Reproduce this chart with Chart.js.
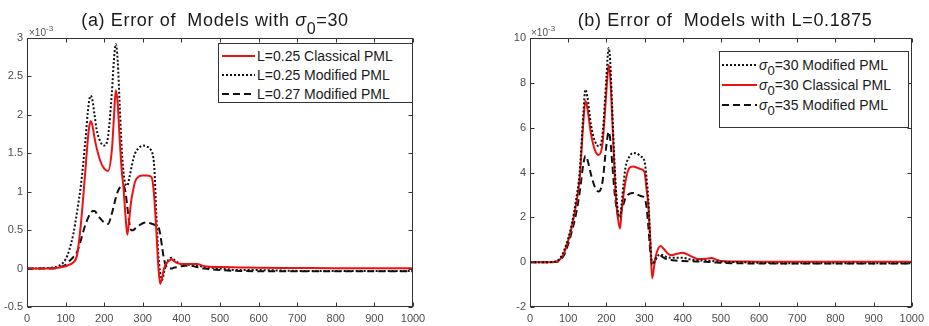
<!DOCTYPE html>
<html><head><meta charset="utf-8">
<script src="https://cdn.jsdelivr.net/npm/chart.js@4/dist/chart.umd.min.js"></script>
<style>
html,body{margin:0;padding:0;background:#fff;width:929px;height:326px;overflow:hidden;font-family:"Liberation Sans",Arial,sans-serif;}
.wrap{position:absolute;top:0;}
canvas{display:block;}
.title{position:absolute;top:11px;font-size:18px;line-height:18px;color:#1a1a1a;white-space:pre;letter-spacing:0.65px;transform:translateX(-50%);}
.title .sub{position:relative;top:8px;font-size:16px;}
.exp{position:absolute;top:25px;font-size:10px;color:#555;line-height:10px;}
.exp sup{font-size:8px;position:relative;top:-1px;}
.legend{position:absolute;background:#fff;border:1px solid #333;box-sizing:border-box;font-size:14px;color:#1a1a1a;}
.row{position:absolute;height:18px;display:flex;align-items:center;white-space:pre;}
.row svg{margin-right:2px;}
.row .sub{position:relative;top:5px;font-size:13px;}
</style>
</head><body>
<div class="wrap" style="left:0;"><canvas id="cA" width="465" height="326"></canvas></div>
<div class="wrap" style="left:465px;"><canvas id="cB" width="464" height="326"></canvas></div>

<div class="title" style="left:215px;">(a) Error of  Models with <i>σ</i><span class="sub">0</span>=30</div>
<div class="title" style="left:725px;">(b) Error of  Models with L=0.1875</div>
<div class="exp" style="left:29px;">×10<sup>-3</sup></div>
<div class="exp" style="left:531px;">×10<sup>-3</sup></div>

<div class="legend" style="left:218px;top:43px;width:195px;height:60px;">
  <div class="row" style="left:3px;top:3px;"><svg width="33" height="4"><line x1="0" y1="2" x2="33" y2="2" stroke="#ee1111" stroke-width="2"/></svg>L=0.25 Classical PML</div>
  <div class="row" style="left:3px;top:22px;"><svg width="33" height="4"><line x1="0" y1="2" x2="33" y2="2" stroke="#111" stroke-width="2" stroke-dasharray="2 2"/></svg>L=0.25 Modified PML</div>
  <div class="row" style="left:3px;top:41px;"><svg width="33" height="4"><line x1="0" y1="2" x2="33" y2="2" stroke="#111" stroke-width="2" stroke-dasharray="7 4"/></svg>L=0.27 Modified PML</div>
</div>
<div class="legend" style="left:719px;top:51px;width:190px;height:77px;">
  <div class="row" style="left:2px;top:4px;"><svg width="35" height="4"><line x1="0" y1="2" x2="35" y2="2" stroke="#111" stroke-width="2" stroke-dasharray="2 2"/></svg><i>σ</i><span class="sub">0</span>=30 Modified PML</div>
  <div class="row" style="left:2px;top:24px;"><svg width="35" height="4"><line x1="0" y1="2" x2="35" y2="2" stroke="#ee1111" stroke-width="2"/></svg><i>σ</i><span class="sub">0</span>=30 Classical PML</div>
  <div class="row" style="left:2px;top:44px;"><svg width="35" height="4"><line x1="0" y1="2" x2="35" y2="2" stroke="#111" stroke-width="2" stroke-dasharray="7 4"/></svg><i>σ</i><span class="sub">0</span>=35 Modified PML</div>
</div>

<script>
// ---------- Panel (a): values in units of 1e-3 ----------
const xA = [0,60,80,100,110,120,130,140,150,160,
            165,170,175,180,190,200,210,220,225,230,
            235,240,245,250,255,260,265,270,275,280,
            290,300,310,320,325,330,335,340,345,350,
            355,360,370,375,380,390,400,420,440,460,
            500,550,600,700,800,900,1000];
const classicalL025 = [0,0,0.01,0.03,0.05,0.08,0.18,0.6,1.2,1.8,
            1.92,1.85,1.7,1.58,1.4,1.3,1.27,1.55,1.95,2.32,
            2.15,1.7,1.3,1.05,0.7,0.44,0.65,0.88,1.02,1.13,
            1.2,1.21,1.21,1.2,1.15,0.9,0.5,0.05,-0.2,-0.12,
            0.0,0.06,0.11,0.12,0.1,0.07,0.06,0.06,0.06,0.03,
            0.02,0.015,0.01,0.008,0.005,0.005,0.005];
const modifiedL025 = [0,0.01,0.03,0.12,0.25,0.45,0.75,1.1,1.6,2.15,
            2.25,2.18,2.0,1.82,1.65,1.6,1.72,2.3,2.7,2.92,
            2.7,2.15,1.6,1.25,1.1,1.08,1.18,1.3,1.42,1.5,
            1.57,1.6,1.59,1.55,1.5,1.3,0.7,0.2,-0.05,-0.15,
            -0.05,0.05,0.13,0.14,0.12,0.08,0.06,0.05,0.04,0.02,
            0.0,-0.02,-0.02,-0.03,-0.03,-0.03,-0.03];
const modifiedL027 = [0,0,0.01,0.05,0.1,0.15,0.22,0.38,0.55,0.68,
            0.72,0.75,0.75,0.72,0.65,0.6,0.58,0.72,0.82,0.92,
            1.0,1.05,1.08,1.08,1.0,0.8,0.6,0.5,0.5,0.52,
            0.56,0.59,0.6,0.59,0.58,0.57,0.56,0.55,0.45,0.28,
            0.12,0.04,0.0,0.0,0.01,0.02,0.03,0.04,0.02,0.0,
            -0.02,-0.03,-0.035,-0.035,-0.035,-0.035,-0.035];

// ---------- Panel (b): values in units of 1e-3 ----------
const xB = [0,50,70,80,90,100,110,120,130,140,
            145,150,160,170,180,190,200,206,210,215,
            220,225,230,236,240,245,250,260,270,280,
            290,300,305,310,315,320,325,330,342,350,
            360,370,380,400,420,440,460,475,490,500,
            550,600,700,800,900,1000];
const modifiedS30 = [0,0,0.05,0.2,0.55,1.05,1.75,2.7,4.0,6.7,
            7.7,7.4,6.1,5.4,5.17,5.7,8.2,9.55,9.0,7.0,
            4.9,3.3,2.3,2.0,2.6,3.5,4.2,4.7,4.87,4.85,
            4.72,4.5,3.8,2.8,1.0,-0.1,0.0,0.2,0.33,0.3,
            0.22,0.2,0.2,0.2,0.12,0.08,0.07,0.06,0.03,0.02,
            0.0,-0.03,-0.05,-0.05,-0.05,-0.05];
const classicalS30 = [0,0,0.03,0.15,0.45,0.95,1.6,2.5,3.7,6.3,
            7.2,6.9,5.7,5.0,4.78,5.3,7.6,8.8,8.3,6.6,
            4.6,2.9,2.0,1.5,2.3,3.0,3.6,4.2,4.27,4.22,
            4.15,4.02,3.3,2.5,1.0,-0.72,-0.2,0.3,0.72,0.6,
            0.4,0.31,0.35,0.42,0.28,0.14,0.15,0.19,0.1,0.05,
            0.03,0.02,0.02,0.02,0.02,0.02];
const modifiedS35 = [0,0,0.02,0.1,0.35,0.8,1.4,2.1,3.1,4.4,
            4.75,4.6,3.9,3.35,3.15,3.6,5.2,5.82,5.5,4.5,
            3.4,2.6,2.1,1.96,2.3,2.6,2.85,3.05,3.08,3.02,
            2.95,2.85,2.5,1.6,0.5,-0.13,0.0,0.15,0.27,0.2,
            0.12,0.1,0.07,0.05,0.04,0.03,0.02,0.0,-0.02,-0.03,
            -0.05,-0.06,-0.06,-0.06,-0.06,-0.06];

const RED = '#ee1111', BLK = '#111111';
const FONT = '"Liberation Sans", Arial, sans-serif';

function pts(xs, ys){ return xs.map((x,i)=>({x:x, y:ys[i]})); }

const framePlugin = {
  id:'frame',
  afterDraw(chart){
    const ctx = chart.ctx, a = chart.chartArea, xs = chart.scales.x, ys = chart.scales.y;
    ctx.save();
    ctx.strokeStyle = '#333'; ctx.lineWidth = 1;
    const L = Math.round(a.left)+0.5, R = Math.round(a.right)-0.5, T = Math.round(a.top)+0.5, B = Math.round(a.bottom)-0.5;
    ctx.strokeRect(L, T, R-L, B-T);
    ctx.beginPath();
    xs.ticks.forEach(t=>{ const p = Math.round(xs.getPixelForValue(t.value))+0.5;
      ctx.moveTo(p,B); ctx.lineTo(p,B-4); ctx.moveTo(p,T); ctx.lineTo(p,T+4); });
    ys.ticks.forEach(t=>{ const p = Math.round(ys.getPixelForValue(t.value))+0.5;
      ctx.moveTo(L,p); ctx.lineTo(L+4,p); ctx.moveTo(R,p); ctx.lineTo(R-4,p); });
    ctx.stroke();
    ctx.restore();
  }
};

function makeChart(id, xs, series, yMin, yMax, yStep, yWidth, padRight){
  return new Chart(document.getElementById(id), {
    type:'line',
    data:{ datasets: series.map(s=>({
      label:s.label, data:pts(xs, s.values), borderColor:s.color, borderWidth:2,
      borderDash:s.dash, borderCapStyle:'butt', pointRadius:0, fill:false,
      cubicInterpolationMode:'monotone'
    }))},
    options:{
      responsive:false, animation:false, devicePixelRatio:1,
      layout:{padding:{left:0, right:padRight, top:38, bottom:0}},
      plugins:{legend:{display:false}, tooltip:{enabled:false}, title:{display:false}},
      scales:{
        x:{type:'linear', min:0, max:1000,
           grid:{display:false, drawTicks:false, tickLength:0}, border:{display:false},
           ticks:{stepSize:100, autoSkip:false, maxRotation:0, padding:5, color:'#4d4d4d',
                  font:{size:11, family:FONT}, callback:v=>String(v)},
           afterFit(s){ s.height = 19; }},
        y:{type:'linear', min:yMin, max:yMax,
           grid:{display:false, drawTicks:false, tickLength:0}, border:{display:false},
           ticks:{stepSize:yStep, padding:4, color:'#4d4d4d',
                  font:{size:11, family:FONT}, callback:v=>String(v)},
           afterFit(s){ s.width = yWidth; }}
      }
    },
    plugins:[framePlugin]
  });
}

makeChart('cA', xA, [
  {label:'L=0.25 Classical PML', values:classicalL025, color:RED, dash:[]},
  {label:'L=0.25 Modified PML', values:modifiedL025, color:BLK, dash:[2,2]},
  {label:'L=0.27 Modified PML', values:modifiedL027, color:BLK, dash:[7,4]}
], -0.5, 3, 0.5, 27, 52);

makeChart('cB', xB, [
  {label:'σ0=30 Modified PML', values:modifiedS30, color:BLK, dash:[2,2]},
  {label:'σ0=30 Classical PML', values:classicalS30, color:RED, dash:[]},
  {label:'σ0=35 Modified PML', values:modifiedS35, color:BLK, dash:[7,4]}
], -2, 10, 2, 65, 14);
</script>
</body></html>
